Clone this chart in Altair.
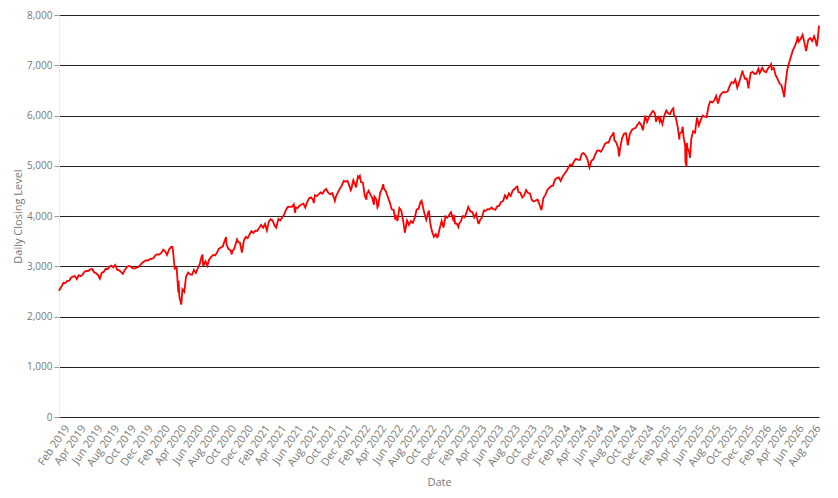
import altair as alt
import pandas as pd

data_2019 = [("01-02", 2510), ("01-04", 2532), ("01-11", 2596), ("01-18", 2671), ("01-25", 2665),
             ("02-01", 2707), ("02-08", 2708), ("02-15", 2776), ("02-22", 2793), ("03-01", 2804),
             ("03-08", 2743), ("03-15", 2822), ("03-22", 2801), ("03-29", 2834), ("04-05", 2893),
             ("04-12", 2907), ("04-18", 2905), ("04-26", 2940), ("05-03", 2946), ("05-10", 2881),
             ("05-17", 2860), ("05-24", 2826), ("05-31", 2752), ("06-07", 2873), ("06-14", 2887),
             ("06-21", 2950), ("06-28", 2942), ("07-05", 2990), ("07-12", 3014), ("07-19", 2977),
             ("07-26", 3026), ("08-02", 2932), ("08-09", 2919), ("08-16", 2889), ("08-23", 2847),
             ("08-30", 2926), ("09-06", 2979), ("09-13", 3007), ("09-20", 2992), ("09-27", 2962),
             ("10-04", 2952), ("10-11", 2970), ("10-18", 2986), ("10-25", 3023), ("11-01", 3067),
             ("11-08", 3093), ("11-15", 3120), ("11-22", 3110), ("11-29", 3141), ("12-06", 3146),
             ("12-13", 3169), ("12-20", 3221), ("12-27", 3240), ("12-31", 3231)]
data_2020 = [("01-03", 3235), ("01-10", 3265), ("01-17", 3330), ("01-24", 3295), ("01-31", 3226),
             ("02-07", 3328), ("02-14", 3380), ("02-19", 3386), ("02-21", 3338), ("02-28", 2954),
             ("03-06", 2972), ("03-12", 2481), ("03-13", 2711), ("03-16", 2386), ("03-20", 2305),
             ("03-23", 2237), ("03-27", 2541), ("04-03", 2489), ("04-09", 2790), ("04-17", 2875),
             ("04-24", 2837), ("05-01", 2831), ("05-08", 2930), ("05-15", 2864), ("05-22", 2955),
             ("05-29", 3044), ("06-05", 3194), ("06-08", 3232), ("06-11", 3002), ("06-19", 3098),
             ("06-26", 3009), ("07-02", 3130), ("07-10", 3185), ("07-17", 3225), ("07-24", 3216),
             ("07-31", 3271), ("08-07", 3351), ("08-14", 3373), ("08-21", 3397), ("08-28", 3508),
             ("09-02", 3580), ("09-04", 3427), ("09-11", 3341), ("09-18", 3319), ("09-23", 3237),
             ("09-25", 3298), ("10-02", 3348), ("10-09", 3477), ("10-12", 3534), ("10-16", 3484),
             ("10-23", 3465), ("10-30", 3270), ("11-06", 3510), ("11-13", 3585), ("11-20", 3558),
             ("11-27", 3638), ("12-04", 3699), ("12-11", 3663), ("12-18", 3709), ("12-24", 3703),
             ("12-31", 3756)]
data_2021 = [("01-08", 3825), ("01-15", 3768), ("01-22", 3841), ("01-29", 3714), ("02-05", 3887),
             ("02-12", 3934), ("02-19", 3907), ("02-26", 3811), ("03-04", 3768), ("03-12", 3943),
             ("03-19", 3913), ("03-26", 3975), ("04-01", 4020), ("04-09", 4129), ("04-16", 4185),
             ("04-23", 4180), ("04-30", 4181), ("05-07", 4233), ("05-12", 4063), ("05-14", 4174),
             ("05-21", 4156), ("05-28", 4204), ("06-04", 4230), ("06-11", 4247), ("06-18", 4166),
             ("06-25", 4281), ("07-02", 4352), ("07-09", 4370), ("07-16", 4327), ("07-19", 4258),
             ("07-23", 4412), ("07-30", 4395), ("08-06", 4437), ("08-13", 4468), ("08-20", 4442),
             ("08-27", 4509), ("09-02", 4537), ("09-10", 4459), ("09-17", 4433), ("09-24", 4455),
             ("10-01", 4357), ("10-04", 4300), ("10-08", 4391), ("10-15", 4471), ("10-22", 4545),
             ("10-29", 4605), ("11-05", 4698), ("11-12", 4683), ("11-19", 4698), ("11-26", 4595),
             ("12-01", 4513), ("12-03", 4538), ("12-10", 4712), ("12-17", 4620), ("12-20", 4568),
             ("12-27", 4791), ("12-31", 4766)]
data_2022 = [("01-03", 4797), ("01-07", 4677), ("01-14", 4663), ("01-21", 4398), ("01-27", 4326),
             ("01-28", 4432), ("02-04", 4501), ("02-11", 4419), ("02-18", 4349), ("02-23", 4225),
             ("02-25", 4385), ("03-04", 4329), ("03-08", 4170), ("03-11", 4204), ("03-18", 4463),
             ("03-25", 4543), ("03-29", 4632), ("04-01", 4546), ("04-08", 4488), ("04-14", 4393),
             ("04-22", 4272), ("04-29", 4132), ("05-06", 4123), ("05-12", 3930), ("05-13", 4024),
             ("05-20", 3901), ("05-27", 4158), ("06-03", 4109), ("06-10", 3901), ("06-16", 3667),
             ("06-24", 3912), ("07-01", 3825), ("07-08", 3899), ("07-15", 3863), ("07-22", 3962),
             ("07-29", 4130), ("08-05", 4145), ("08-12", 4280), ("08-16", 4305), ("08-19", 4228),
             ("08-26", 4058), ("09-02", 3924), ("09-09", 4067), ("09-12", 4110), ("09-16", 3873),
             ("09-23", 3693), ("09-30", 3586), ("10-07", 3640), ("10-12", 3577), ("10-14", 3583),
             ("10-21", 3752), ("10-28", 3901), ("11-04", 3771), ("11-11", 3993), ("11-18", 3965),
             ("11-25", 4026), ("12-01", 4077), ("12-09", 3934), ("12-13", 4019), ("12-16", 3852),
             ("12-23", 3845), ("12-28", 3783), ("12-30", 3840)]
data_2023 = [("01-06", 3895), ("01-13", 3999), ("01-20", 3973), ("01-27", 4071), ("02-02", 4180),
             ("02-10", 4090), ("02-17", 4079), ("02-24", 3970), ("03-03", 4046), ("03-10", 3862),
             ("03-13", 3855), ("03-17", 3917), ("03-24", 3971), ("03-31", 4109), ("04-06", 4105),
             ("04-14", 4138), ("04-21", 4133), ("04-28", 4169), ("05-05", 4136), ("05-12", 4124),
             ("05-19", 4192), ("05-26", 4205), ("06-02", 4282), ("06-09", 4299), ("06-16", 4410),
             ("06-23", 4348), ("06-30", 4450), ("07-07", 4399), ("07-14", 4505), ("07-21", 4536),
             ("07-28", 4582), ("07-31", 4589), ("08-04", 4478), ("08-11", 4464), ("08-18", 4370),
             ("08-25", 4406), ("09-01", 4516), ("09-08", 4457), ("09-15", 4450), ("09-22", 4320),
             ("09-29", 4288), ("10-06", 4308), ("10-13", 4327), ("10-20", 4224), ("10-27", 4117),
             ("11-03", 4358), ("11-10", 4415), ("11-17", 4514), ("11-24", 4559), ("12-01", 4595),
             ("12-08", 4604), ("12-15", 4719), ("12-22", 4755), ("12-29", 4770)]
data_2024 = [("01-05", 4697), ("01-12", 4784), ("01-19", 4840), ("01-26", 4891), ("02-02", 4959),
             ("02-09", 5027), ("02-16", 5006), ("02-23", 5089), ("03-01", 5137), ("03-08", 5124),
             ("03-15", 5117), ("03-22", 5234), ("03-28", 5254), ("04-05", 5204), ("04-12", 5123),
             ("04-19", 4967), ("04-26", 5100), ("05-03", 5128), ("05-10", 5223), ("05-17", 5303),
             ("05-24", 5305), ("05-31", 5278), ("06-07", 5347), ("06-14", 5431), ("06-21", 5465),
             ("06-28", 5460), ("07-05", 5567), ("07-12", 5615), ("07-16", 5667), ("07-19", 5505),
             ("07-26", 5459), ("08-02", 5346), ("08-05", 5186), ("08-09", 5344), ("08-16", 5554),
             ("08-23", 5635), ("08-30", 5648), ("09-06", 5408), ("09-13", 5626), ("09-20", 5703),
             ("09-27", 5738), ("10-04", 5751), ("10-11", 5815), ("10-18", 5864), ("10-25", 5808),
             ("10-31", 5705), ("11-08", 5996), ("11-15", 5870), ("11-22", 5969), ("11-29", 6032),
             ("12-06", 6090), ("12-13", 6051), ("12-18", 5872), ("12-20", 5931), ("12-27", 5971),
             ("12-31", 5882)]
data_2025 = [("01-03", 5942), ("01-10", 5827), ("01-17", 5997), ("01-24", 6101), ("01-31", 6041),
             ("02-07", 6026), ("02-14", 6115), ("02-19", 6144), ("02-21", 6013), ("02-28", 5955),
             ("03-07", 5770), ("03-13", 5522), ("03-14", 5639), ("03-21", 5668), ("03-25", 5777),
             ("03-28", 5581), ("04-03", 5397), ("04-04", 5074), ("04-08", 4982), ("04-09", 5457),
             ("04-11", 5363), ("04-17", 5283), ("04-21", 5158), ("04-25", 5525), ("05-02", 5686),
             ("05-09", 5660), ("05-16", 5958), ("05-23", 5803), ("05-30", 5912), ("06-06", 6000),
             ("06-13", 5977), ("06-20", 5968), ("06-27", 6173), ("07-03", 6279), ("07-11", 6260),
             ("07-18", 6297), ("07-25", 6389), ("08-01", 6238), ("08-08", 6389), ("08-15", 6450),
             ("08-22", 6467), ("08-29", 6460), ("09-05", 6482), ("09-12", 6584), ("09-19", 6664),
             ("09-26", 6644), ("10-03", 6716), ("10-10", 6552), ("10-17", 6664), ("10-24", 6792),
             ("10-29", 6890), ("10-31", 6840), ("11-07", 6729), ("11-14", 6734), ("11-20", 6538),
             ("11-21", 6603), ("11-28", 6849), ("12-05", 6870), ("12-12", 6827), ("12-19", 6834),
             ("12-26", 6930), ("12-31", 6845)]
data_2026 = [("01-09", 6950), ("01-16", 6880), ("01-23", 6860), ("01-30", 6940), ("02-06", 6980),
             ("02-10", 7020), ("02-13", 6920), ("02-20", 6950), ("02-27", 6800), ("03-06", 6730),
             ("03-13", 6640), ("03-20", 6600), ("03-27", 6450), ("03-30", 6366), ("04-03", 6600),
             ("04-10", 6900), ("04-17", 7050), ("04-24", 7180), ("05-01", 7300), ("05-08", 7380),
             ("05-15", 7480), ("05-18", 7575), ("05-22", 7470), ("05-29", 7520), ("06-05", 7608),
             ("06-12", 7450), ("06-18", 7281), ("06-26", 7510), ("07-03", 7542), ("07-10", 7480),
             ("07-17", 7575), ("07-22", 7500), ("07-27", 7379), ("07-31", 7550), ("08-04", 7790)]

years = [2019, 2020, 2021, 2022, 2023, 2024, 2025, 2026]
series = [data_2019, data_2020, data_2021, data_2022, data_2023, data_2024, data_2025, data_2026]

# x-axis tick positions: every second month, Feb 2019 .. Aug 2026
tick_years = [2019] * 6 + [2020] * 6 + [2021] * 6 + [2022] * 6 + [2023] * 6 + [2024] * 6 + [2025] * 6 + [2026] * 4
tick_months = [2, 4, 6, 8, 10, 12] * 7 + [2, 4, 6, 8]
y_ticks = [0, 1000, 2000, 3000, 4000, 5000, 6000, 7000, 8000]

rows = []
for yr, pts in zip(years, series):
    for md, v in pts:
        rows.append({"Date": f"{yr}-{md}T00:00:00", "Close": v})
df = pd.DataFrame(rows)

FONT = "Open Sans"
GREY = "#777777"

chart = alt.Chart(df).mark_line(color="#ff0000", strokeWidth=1.8).encode(
    x=alt.X(
        "Date:T",
        title="Date",
        scale=alt.Scale(nice=False),
        axis=alt.Axis(
            values=[alt.DateTime(year=y, month=m, date=1) for y, m in zip(tick_years, tick_months)],
            format="%b %Y",
            labelAngle=-55,
            labelFontSize=11,
            labelColor=GREY,
            labelFont=FONT,
            labelPadding=9,
            ticks=False,
            domain=False,
            grid=False,
            titleFont=FONT,
            titleFontSize=11,
            titleFontWeight="normal",
            titleColor=GREY,
            titlePadding=9,
            labelOverlap=False,
        ),
    ),
    y=alt.Y(
        "Close:Q",
        title="Daily Closing Level",
        scale=alt.Scale(domain=[0, 8000], nice=False),
        axis=alt.Axis(
            values=y_ticks,
            format=",.0f",
            labelFontSize=10,
            labelColor=GREY,
            labelFont=FONT,
            labelPadding=2,
            tickSize=5,
            tickColor="#999999",
            domain=True,
            domainColor="#eeeeee",
            grid=True,
            gridColor="#222222",
            gridWidth=1,
            titleFont=FONT,
            titleFontSize=11,
            titleFontWeight="normal",
            titleColor=GREY,
            titlePadding=3,
        ),
    ),
).properties(
    width=760,
    height=402,
    autosize=alt.AutoSizeParams(type="none"),
    padding={"left": 51, "top": 7, "right": 11, "bottom": 73},
).configure_view(stroke=None)

chart.save("out.html", embed_options={"renderer": "svg", "actions": False})
